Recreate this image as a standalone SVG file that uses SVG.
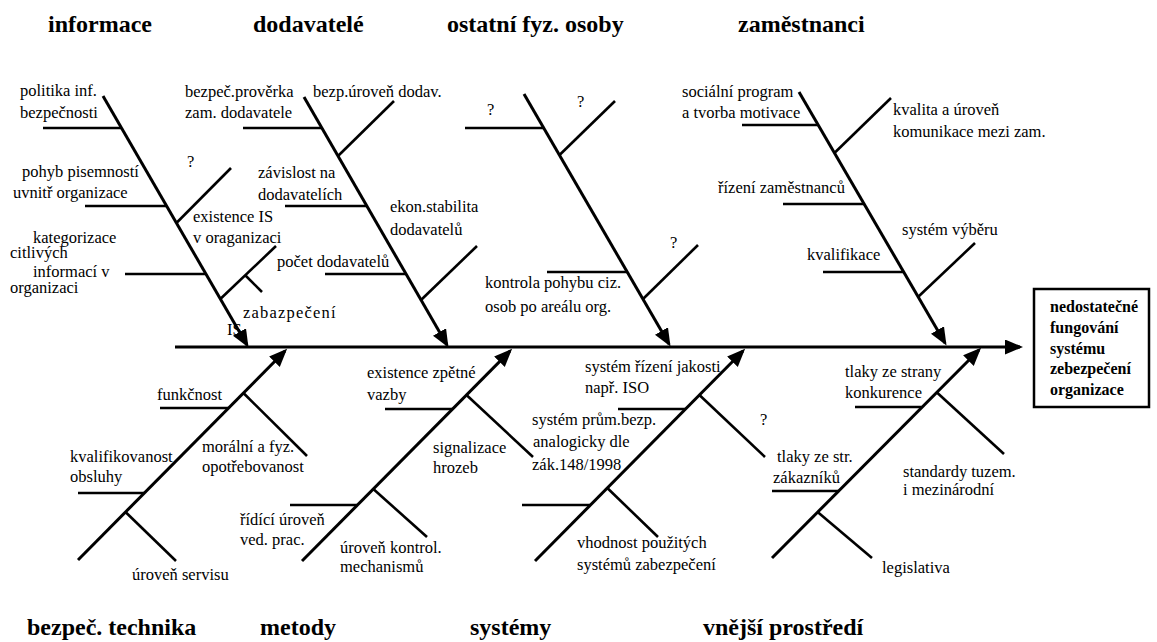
<svg xmlns="http://www.w3.org/2000/svg" width="1157" height="642" viewBox="0 0 1157 642" font-family="Liberation Serif, Times New Roman, serif">
  <defs>
    <style>
      text { fill: #000; }
      .t { font-size: 16.5px; }
      .h { font-size: 24px; font-weight: bold; }
      .e { font-size: 16px; font-weight: bold; }
      .sp { letter-spacing: 1.2px; }
      .bone { stroke: #000; stroke-width: 3; fill: none; marker-end: url(#arrow); }
      .br { stroke: #000; stroke-width: 2.6; fill: none; }
    </style>
    <marker id="arrow" markerUnits="userSpaceOnUse" markerWidth="19" markerHeight="16" refX="15" refY="7.5" orient="auto">
      <path d="M0,0 L18,7.5 L0,15 z" fill="#000"/>
    </marker>
  </defs>

  <rect width="1157" height="642" fill="#fff"/>

  <!-- spine, category bones and cause branches -->
  <g id="connectors">
    <line class="bone" x1="175" y1="347" x2="1020" y2="347"/>

    <!-- upper bones -->
    <line class="bone" x1="103" y1="96" x2="247" y2="345"/>
    <line class="bone" x1="304" y1="97" x2="447" y2="345"/>
    <line class="bone" x1="524" y1="94" x2="669" y2="344"/>
    <line class="bone" x1="799" y1="92" x2="945" y2="343"/>

    <!-- lower bones -->
    <line class="bone" x1="78" y1="560" x2="285" y2="351"/>
    <line class="bone" x1="302" y1="561" x2="510" y2="351"/>
    <line class="bone" x1="535" y1="561" x2="743" y2="351"/>
    <line class="bone" x1="772" y1="558" x2="979" y2="350"/>

    <!-- informace -->
    <line class="br" x1="43" y1="128" x2="121.5" y2="128"/>
    <line class="br" x1="85" y1="206" x2="166.5" y2="206"/>
    <line class="br" x1="125" y1="274" x2="206" y2="274"/>
    <line class="br" x1="176.4" y1="223" x2="231" y2="168"/>
    <line class="br" x1="220.3" y1="299" x2="276" y2="246"/>
    <line class="br" x1="245" y1="275" x2="262" y2="292"/>

    <!-- dodavatelé -->
    <line class="br" x1="243" y1="128" x2="322" y2="128"/>
    <line class="br" x1="338" y1="156" x2="394" y2="101"/>
    <line class="br" x1="285" y1="206" x2="367" y2="206"/>
    <line class="br" x1="325" y1="274" x2="406" y2="274"/>
    <line class="br" x1="421" y1="300" x2="477" y2="246"/>

    <!-- ostatní fyz. osoby -->
    <line class="br" x1="465" y1="128" x2="544" y2="128"/>
    <line class="br" x1="559.5" y1="155" x2="615" y2="101"/>
    <line class="br" x1="547" y1="272" x2="627" y2="272"/>
    <line class="br" x1="643" y1="299" x2="698" y2="245"/>

    <!-- zaměstnanci -->
    <line class="br" x1="742" y1="125" x2="818.2" y2="125"/>
    <line class="br" x1="834.4" y1="153" x2="891" y2="98"/>
    <line class="br" x1="783" y1="204" x2="864" y2="204"/>
    <line class="br" x1="823" y1="272" x2="903.6" y2="272"/>
    <line class="br" x1="918" y1="297" x2="975" y2="243"/>

    <!-- bezpeč. technika -->
    <line class="br" x1="160" y1="408" x2="228.5" y2="408"/>
    <line class="br" x1="243.4" y1="393" x2="307" y2="456"/>
    <line class="br" x1="78" y1="493" x2="144.4" y2="493"/>
    <line class="br" x1="125.5" y1="512" x2="176" y2="561"/>

    <!-- metody -->
    <line class="br" x1="385" y1="409" x2="452.6" y2="409"/>
    <line class="br" x1="466.5" y1="395" x2="533" y2="457"/>
    <line class="br" x1="290" y1="505" x2="357.5" y2="505"/>
    <line class="br" x1="373.3" y1="489" x2="427" y2="537"/>

    <!-- systémy -->
    <line class="br" x1="618" y1="409" x2="685.5" y2="409"/>
    <line class="br" x1="699.4" y1="395" x2="765" y2="457"/>
    <line class="br" x1="522" y1="505" x2="590.4" y2="505"/>
    <line class="br" x1="607.3" y1="488" x2="658" y2="537"/>

    <!-- vnější prostředí -->
    <line class="br" x1="855" y1="407" x2="921.6" y2="407"/>
    <line class="br" x1="936.4" y1="392" x2="1004" y2="454"/>
    <line class="br" x1="772" y1="491" x2="838.4" y2="491"/>
    <line class="br" x1="817.6" y1="512" x2="872" y2="558"/>
  </g>

  <g id="informace">
    <text class="h" x="48" y="32">informace</text>
    <text class="t" x="20" y="96">politika inf.</text>
    <text class="t" x="20" y="118">bezpečnosti</text>
    <text class="t" x="22" y="177">pohyb pisemností</text>
    <text class="t" x="13" y="198">uvnitř organizace</text>
    <text class="t" x="187" y="167">?</text>
    <text class="t" x="193" y="222">existence IS</text>
    <text class="t" x="193" y="243">v oraganizaci</text>
    <text class="t" x="33" y="243">kategorizace</text>
    <text class="t" x="10" y="258" font-size="14">citlivých</text>
    <text class="t" x="33" y="277">informací v</text>
    <text class="t" x="10" y="293" font-size="14">organizaci</text>
    <text class="t sp" x="243" y="318">zabazpečení</text>
    <text class="t" x="227" y="335">IS</text>
  </g>

  <g id="dodavatele">
    <text class="h" x="253" y="32">dodavatelé</text>
    <text class="t" x="185" y="97">bezpeč.prověrka</text>
    <text class="t" x="185" y="118">zam. dodavatele</text>
    <text class="t" x="313" y="97">bezp.úroveň dodav.</text>
    <text class="t" x="258" y="178">závislost na</text>
    <text class="t" x="258" y="200">dodavatelích</text>
    <text class="t" x="390" y="212">ekon.stabilita</text>
    <text class="t" x="390" y="235">dodavatelů</text>
    <text class="t" x="277" y="267">počet dodavatelů</text>
  </g>

  <g id="ostatni-fyz-osoby">
    <text class="h" x="447" y="32">ostatní fyz. osoby</text>
    <text class="t" x="487" y="115">?</text>
    <text class="t" x="577" y="107">?</text>
    <text class="t" x="670" y="248">?</text>
    <text class="t" x="485" y="288">kontrola pohybu ciz.</text>
    <text class="t" x="485" y="312">osob po areálu org.</text>
  </g>

  <g id="zamestnanci">
    <text class="h" x="738" y="32">zaměstnanci</text>
    <text class="t" x="682" y="97">sociální program</text>
    <text class="t" x="682" y="118">a tvorba motivace</text>
    <text class="t" x="893" y="115">kvalita a úroveň</text>
    <text class="t" x="893" y="137">komunikace mezi zam.</text>
    <text class="t" x="718" y="193">řízení zaměstnanců</text>
    <text class="t" x="902" y="235">systém výběru</text>
    <text class="t" x="807" y="260">kvalifikace</text>
  </g>

  <g id="bezpec-technika">
    <text class="h" x="27" y="635">bezpeč. technika</text>
    <text class="t" x="157" y="400">funkčnost</text>
    <text class="t" x="202" y="452">morální a fyz.</text>
    <text class="t" x="202" y="472">opotřebovanost</text>
    <text class="t" x="70" y="462">kvalifikovanost</text>
    <text class="t" x="70" y="482">obsluhy</text>
    <text class="t" x="132" y="580">úroveň servisu</text>
  </g>

  <g id="metody">
    <text class="h" x="260" y="635">metody</text>
    <text class="t" x="367" y="378">existence zpětné</text>
    <text class="t" x="367" y="400">vazby</text>
    <text class="t" x="433" y="453">signalizace</text>
    <text class="t" x="433" y="473">hrozeb</text>
    <text class="t" x="240" y="525">řídící úroveň</text>
    <text class="t" x="240" y="545">ved. prac.</text>
    <text class="t" x="340" y="553">úroveň kontrol.</text>
    <text class="t" x="340" y="572">mechanismů</text>
  </g>

  <g id="systemy">
    <text class="h" x="470" y="635">systémy</text>
    <text class="t" x="585" y="372">systém řízení jakosti</text>
    <text class="t" x="585" y="393">např. ISO</text>
    <text class="t" x="532" y="425">systém prům.bezp.</text>
    <text class="t" x="533" y="447">analogicky dle</text>
    <text class="t" x="532" y="470">zák.148/1998</text>
    <text class="t" x="577" y="548">vhodnost použitých</text>
    <text class="t" x="577" y="570">systémů zabezpečení</text>
    <text class="t" x="760" y="425">?</text>
  </g>

  <g id="vnejsi-prostredi">
    <text class="h" x="703" y="635">vnější prostředí</text>
    <text class="t" x="845" y="377">tlaky ze strany</text>
    <text class="t" x="845" y="398">konkurence</text>
    <text class="t" x="903" y="477">standardy tuzem.</text>
    <text class="t" x="903" y="495">i mezinárodní</text>
    <text class="t" x="777" y="462">tlaky ze str.</text>
    <text class="t" x="773" y="483">zákazníků</text>
    <text class="t" x="882" y="573">legislativa</text>
  </g>

  <g id="effect">
    <rect x="1034" y="289" width="115" height="118" fill="#fff" stroke="#000" stroke-width="2.5"/>
    <text class="e" x="1050" y="312">nedostatečné</text>
    <text class="e" x="1050" y="333">fungování</text>
    <text class="e" x="1050" y="354">systému</text>
    <text class="e" x="1050" y="374">zebezpečení</text>
    <text class="e" x="1050" y="395">organizace</text>
  </g>
</svg>
